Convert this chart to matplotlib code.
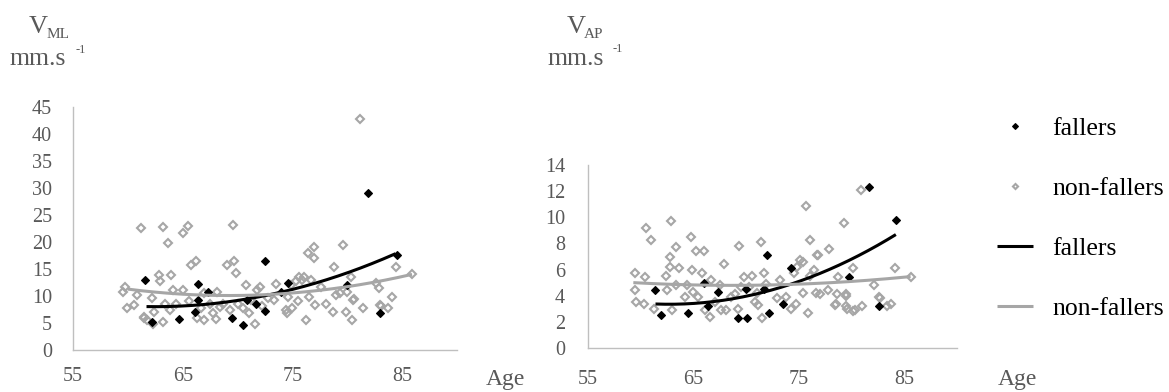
import numpy as np
import matplotlib
matplotlib.use("Agg")
import matplotlib.pyplot as plt

SERIF = "Liberation Serif"

# ---- data: age (years) and sway velocity (mm/s) ----
ml_fall_age = [61.6, 62.2, 64.7, 66.1, 66.4, 66.4, 67.3, 69.5, 70.5, 70.9,
               71.7, 72.5, 72.5, 74.0, 74.6, 80.0, 81.9, 83.0, 84.5]
ml_fall_v = [13.0, 5.1, 5.8, 7.0, 12.2, 9.3, 10.7, 6.0, 4.6, 9.3,
             8.6, 16.5, 7.2, 10.8, 12.5, 12.0, 29.1, 6.8, 17.6]

ml_nonf_age = [59.7, 59.6, 59.9, 60.6, 60.8, 61.2, 61.5, 61.7, 62.2, 62.4,
               62.8, 62.9, 63.2, 63.2, 63.4, 63.7, 63.8, 63.9, 64.1, 64.4,
               65.0, 65.0, 65.5, 65.6, 65.8, 66.2, 66.3, 66.7, 66.9, 66.9,
               67.5, 67.8, 68.0, 68.1, 68.4, 68.7, 69.0, 69.3, 69.6, 69.7,
               69.9, 70.0, 70.5, 70.8, 71.0, 71.2, 71.6, 71.8, 72.0, 72.2,
               72.8, 73.3, 73.5, 74.4, 74.5, 74.6, 74.9, 75.0, 75.3, 75.5,
               75.6, 75.9, 76.1, 76.2, 76.4, 76.5, 76.7, 77.0, 77.0, 77.1,
               77.6, 78.1, 78.7, 78.8, 79.0, 79.3, 79.6, 79.9, 80.0, 80.3,
               80.4, 80.5, 80.6, 81.2, 81.4, 82.6, 82.9, 83.0, 83.1, 83.7,
               84.1, 84.4, 85.9, 62.3, 61.5]
ml_nonf_v = [11.7, 10.8, 7.7, 8.3, 10.2, 22.5, 5.9, 5.6, 9.6, 7.1,
             13.9, 12.8, 22.8, 5.2, 8.6, 19.9, 7.4, 13.9, 11.1, 8.6,
             11.1, 21.7, 23.0, 9.1, 15.7, 16.5, 5.9, 7.7, 10.5, 5.6,
             8.6, 6.8, 5.7, 10.8, 8.0, 8.6, 15.7, 7.4, 23.1, 16.4,
             14.2, 8.6, 7.7, 12.0, 6.8, 9.3, 4.9, 11.1, 11.7, 8.1,
             9.6, 9.3, 12.3, 7.4, 6.9, 9.9, 12.0, 7.7, 12.7, 9.0,
             13.6, 13.0, 13.6, 5.6, 17.9, 9.9, 13.0, 19.1, 17.0, 8.3,
             11.7, 8.6, 7.1, 15.4, 10.2, 10.5, 19.4, 7.1, 10.8, 13.6,
             5.6, 9.3, 9.4, 42.8, 7.7, 12.5, 11.4, 8.3, 8.1, 7.7,
             9.9, 15.4, 14.1, 4.9, 6.2]

ap_fall_age = [61.4, 61.9, 64.5, 66.0, 66.4, 67.3, 69.2, 70.0, 70.1, 71.7,
               72.0, 72.2, 73.5, 74.3, 79.8, 81.7, 82.6, 84.2]
ap_fall_v = [4.4, 2.5, 2.7, 4.95, 3.2, 4.3, 2.3, 4.5, 2.3, 4.55,
             7.1, 2.7, 3.4, 6.1, 5.4, 12.3, 3.2, 9.8]

ap_nonf_age = [59.5, 59.5, 59.6, 60.4, 60.3, 60.5, 61.0, 61.3, 62.4, 62.5,
               62.8, 62.9, 62.8, 63.0, 63.3, 63.6, 63.3, 64.2, 64.4, 64.8,
               64.9, 65.2, 65.0, 65.4, 65.8, 66.0, 66.1, 66.7, 66.6, 67.0,
               67.5, 67.6, 67.9, 68.1, 68.6, 68.9, 69.2, 69.3, 69.5, 69.8,
               70.3, 70.6, 70.8, 71.0, 71.1, 71.4, 71.7, 71.5, 71.9, 72.9,
               73.2, 73.8, 74.3, 74.5, 74.7, 74.8, 75.1, 75.4, 75.4, 75.7,
               75.9, 76.1, 76.1, 76.4, 76.6, 76.8, 77.0, 77.9, 77.8, 78.4,
               78.6, 78.7, 79.3, 79.5, 79.5, 80.1, 80.3, 80.9, 81.0, 82.1,
               82.6, 84.1, 85.6, 82.7, 83.7, 83.4, 80.1, 79.6, 78.5, 79.5,
               76.7]
ap_nonf_v = [5.7, 4.4, 3.5, 5.4, 3.4, 9.2, 8.3, 3.0, 5.5, 4.4,
             7.0, 9.7, 6.2, 2.9, 7.7, 6.1, 4.8, 3.9, 4.8, 8.5,
             6.0, 7.4, 4.3, 3.9, 5.7, 7.4, 2.9, 5.2, 2.4, 3.5,
             4.8, 2.9, 6.4, 2.9, 3.9, 4.1, 3.0, 7.8, 4.7, 5.4,
             4.7, 5.5, 3.5, 4.2, 3.3, 8.1, 5.7, 2.3, 4.9, 3.8,
             5.2, 3.9, 3.0, 5.7, 3.4, 6.2, 6.7, 6.6, 4.2, 10.9,
             2.7, 8.3, 5.5, 6.0, 4.2, 7.1, 4.1, 7.6, 4.4, 3.3,
             4.1, 5.4, 9.6, 4.1, 3.2, 6.1, 2.9, 12.1, 3.2, 4.8,
             3.9, 6.1, 5.4, 3.8, 3.4, 3.2, 2.8, 3.0, 3.4, 4.0,
             7.1]

# second-order trend curves: (age, velocity) support values
ml_fall_trend_age = [61.7, 66.5, 71.4, 74.4, 81.1, 84.4]
ml_fall_trend_v = [8.1, 8.3, 9.6, 10.8, 15.5, 17.6]
ml_nonf_trend_age = [60.0, 66.5, 72.6, 75.6, 82.6, 85.9]
ml_nonf_trend_v = [11.1, 10.6, 10.2, 10.4, 12.6, 14.1]
ap_fall_trend_age = [61.4, 64.5, 69.2, 74.2, 78.6, 84.2]
ap_fall_trend_v = [3.4, 3.3, 3.9, 4.9, 6.2, 8.7]
ap_nonf_trend_age = [59.3, 69.2, 76.0, 83.0, 85.6]
ap_nonf_trend_v = [5.0, 4.8, 4.9, 5.3, 5.45]

ml_yticks = list(range(0, 46, 5))
ap_yticks = list(range(0, 15, 2))
age_ticks = [55, 65, 75, 85]

# ---- styling ----
W, H = 1169, 392
FALL = "black"
NONF = "#A6A6A6"
AXIS = "#BFBFBF"
TXT = "#595959"

fig = plt.figure(figsize=(W / 100, H / 100), dpi=100)


def box(x0, y0, x1, y1):
    return [x0 / W, 1 - y1 / H, (x1 - x0) / W, (y1 - y0) / H]


def trend(ax, age, v, color, z):
    coef = np.polyfit(age, v, 2)
    xs = np.linspace(min(age), max(age), 200)
    return ax.plot(xs, np.polyval(coef, xs), color=color, lw=2.2,
                   solid_capstyle="butt", zorder=z)[0]


def panel(ax, fa, fv, na, nv, fta, ftv, nta, ntv, yticks, xpad, ypad):
    hf = ax.plot(fa, fv, ls="none", marker="D", ms=4.3, mfc=FALL, mec=FALL,
                 mew=0.8, zorder=3)[0]
    hn = ax.plot(na, nv, ls="none", marker="D", ms=3.7, mfc="none", mec=NONF,
                 mew=1.5, zorder=2)[0]
    lf = trend(ax, fta, ftv, FALL, 4)
    ln = trend(ax, nta, ntv, NONF, 5)
    ax.set_xlim(55, 90)
    ax.set_ylim(yticks[0], yticks[-1])
    ax.set_xticks(age_ticks)
    ax.set_yticks(yticks)
    for s in ("top", "right"):
        ax.spines[s].set_visible(False)
    for s in ("left", "bottom"):
        ax.spines[s].set_color(AXIS)
        ax.spines[s].set_linewidth(1.0)
    ax.tick_params(axis="both", length=0, labelsize=14.5, labelcolor=TXT,
                   labelfontfamily=SERIF)
    ax.tick_params(axis="x", pad=xpad)
    ax.tick_params(axis="y", pad=ypad)
    ax.patch.set_alpha(0)
    return hf, hn, lf, ln


ax1 = fig.add_axes(box(73, 107, 457, 350))
ax2 = fig.add_axes(box(588, 165, 957, 348))

panel(ax1, ml_fall_age, ml_fall_v, ml_nonf_age, ml_nonf_v,
      ml_fall_trend_age, ml_fall_trend_v, ml_nonf_trend_age, ml_nonf_trend_v,
      ml_yticks, 12, 15)
handles = panel(ax2, ap_fall_age, ap_fall_v, ap_nonf_age, ap_nonf_v,
                ap_fall_trend_age, ap_fall_trend_v,
                ap_nonf_trend_age, ap_nonf_trend_v,
                ap_yticks, 15.5, 16.5)


def ftext(x, y, s, size, color=TXT, **kw):
    fig.text(x / W, 1 - y / H, s, fontsize=size, color=color, family=SERIF,
             ha="left", va="baseline", **kw)


# axis titles
ftext(29, 33, "V", 19)
ftext(47, 38, "ML", 11)
ftext(10, 65, "mm.s", 18.5)
ftext(76, 53, "-1", 9)

ftext(567, 33, "V", 19)
ftext(584, 38, "AP", 11)
ftext(547, 65, "mm.s", 18.5)
ftext(613, 52, "-1", 9)

for xc in (505, 1017):
    fig.text(xc / W, 1 - 379 / H, "Age", fontsize=17, color=TXT,
             family=SERIF, ha="center", va="center")

fig.legend(handles, ["fallers", "non-fallers", "fallers", "non-fallers"],
           loc="center left", bbox_to_anchor=(997 / W, 1 - 218.5 / H),
           frameon=False, prop={"family": SERIF, "size": 18.5},
           handlelength=1.4, handletextpad=0.75, labelspacing=1.45,
           borderpad=0, borderaxespad=0, markerscale=0.7, numpoints=1)

fig.savefig("out.png", dpi=100)
